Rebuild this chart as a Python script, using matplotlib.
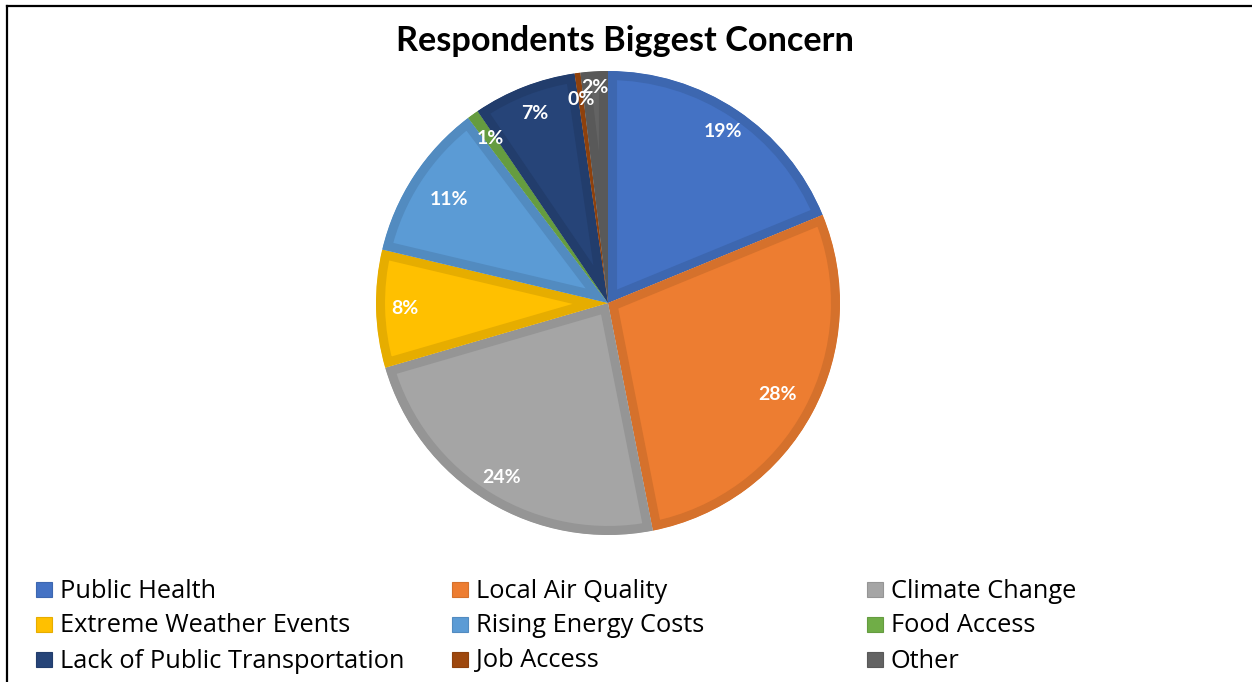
import matplotlib
matplotlib.use("Agg")
import numpy as np
import matplotlib.pyplot as plt
from matplotlib.patches import Rectangle
from matplotlib.lines import Line2D
from matplotlib.colors import to_rgb

plt.rcParams['font.family'] = ['Lato', 'DejaVu Sans']

categories = ["Public Health", "Local Air Quality", "Climate Change",
              "Extreme Weather Events", "Rising Energy Costs", "Food Access",
              "Lack of Public Transportation", "Job Access", "Other"]
shares = [18.8, 28.1, 23.6, 8.2, 11.0, 0.8, 7.2, 0.4, 1.9]
colors = ["#4472C4", "#ED7D31", "#A5A5A5", "#FFC000", "#5B9BD5",
          "#70AD47", "#264478", "#9E480E", "#636363"]
title = "Respondents Biggest Concern"

# radial distance of each percentage label (fraction of the radius)
label_dist = [0.89, 0.83, 0.88, 0.875, 0.82, 0.87, 0.875, 0.885, 0.93]


def darker(c, f=0.9):
    return tuple(v * f for v in to_rgb(c))


W, H = 1252, 682
fig = plt.figure(figsize=(W / 100, H / 100), dpi=100)

# pie axes: centre (608, 303), radius 232 px
cx, cy, r = 608, 303, 232
ax = fig.add_axes([(cx - r) / W, (H - cy - r) / H, 2 * r / W, 2 * r / H])
wedges, _, pct = ax.pie(shares, colors=colors, startangle=90, counterclock=False,
                        autopct="%.0f%%", pctdistance=0.87,
                        textprops=dict(color="white", fontsize=14, fontweight="bold"))
for w, c in zip(wedges, colors):
    # darker rim drawn only on the inside of each slice
    w.set_edgecolor(darker(c))
    w.set_linewidth(13)
    w.set_clip_path(w)
    w.set_clip_on(True)

for w, t, d in zip(wedges, pct, label_dist):
    mid = np.deg2rad((w.theta1 + w.theta2) / 2)
    t.set_position((d * np.cos(mid), d * np.sin(mid)))

ax.set_xlim(-1, 1)
ax.set_ylim(-1, 1)
ax.set_aspect("equal")
ax.axis("off")

fig.text(625 / W, 1 - 41 / H, title, ha="center", va="center",
         fontsize=24.7, fontweight="bold", color="black")

# legend laid out row by row in three columns
col_x = [36, 452, 867]
row_y = [590, 625, 660]
for i, (lab, c) in enumerate(zip(categories, colors)):
    row, col = divmod(i, 3)
    x, y = col_x[col], row_y[row]
    fig.patches.append(Rectangle((x / W, 1 - (y + 7) / H), 16 / W, 15 / H,
                                 transform=fig.transFigure, facecolor=c,
                                 edgecolor=darker(c), lw=0.8))
    fig.text((x + 24) / W, 1 - (y + 1) / H, lab, ha="left", va="center",
             fontsize=18.3, color="black", family=["Open Sans", "DejaVu Sans"])

# frame along the left and top edges
fig.add_artist(Line2D([7 / W, 7 / W], [0, 1 - 5.5 / H], transform=fig.transFigure,
                      color="black", lw=1.6))
fig.add_artist(Line2D([7 / W, 1], [1 - 5.5 / H, 1 - 5.5 / H], transform=fig.transFigure,
                      color="black", lw=1.6))

fig.savefig("out.png", dpi=100, facecolor="white")
